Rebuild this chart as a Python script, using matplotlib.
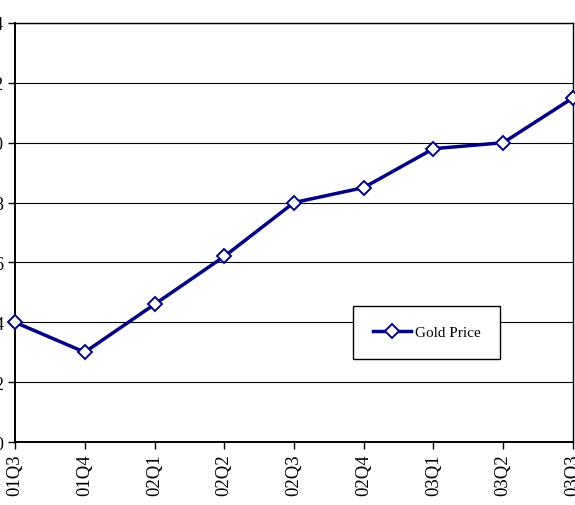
import matplotlib.pyplot as plt

# Data
quarters = ['01Q3', '01Q4', '02Q1', '02Q2', '02Q3', '02Q4', '03Q1', '03Q2', '03Q3']
gold_price = [4.0, 3.0, 4.6, 6.2, 8.0, 8.5, 9.8, 10.0, 11.5]
y_ticks = [0, 2, 4, 6, 8, 10, 12, 14]

plt.rcParams['font.family'] = ['Liberation Serif', 'DejaVu Serif']

fig = plt.figure(figsize=(5.75, 5.06), dpi=100)
ax = fig.add_axes([0.0261, 0.1245, 0.9704, 0.8281])

x = list(range(len(quarters)))
ax.plot(x, gold_price, color='#000080', linewidth=2.5, marker='D',
        markersize=7.5, markerfacecolor='white', markeredgecolor='#000080',
        markeredgewidth=1.4, label='Gold Price', clip_on=False, zorder=3)

ax.set_xlim(0, len(quarters) - 1)
ax.set_ylim(0, 14)
ax.set_xticks(x)
ax.set_xticklabels(quarters, rotation=90, fontsize=13.5)
ax.set_yticks(y_ticks)
ax.set_yticklabels([str(v) for v in y_ticks], fontsize=13)
ax.tick_params(direction='out', length=5, width=1, color='black')

ax.yaxis.grid(True, color='black', linewidth=0.8)
ax.set_axisbelow(True)
for s in ax.spines.values():
    s.set_color('black')
    s.set_linewidth(1)
ax.spines['left'].set_linewidth(1.4)
ax.spines['bottom'].set_linewidth(1.4)

leg = ax.legend(loc='center', bbox_to_anchor=(0.738, 0.261), fontsize=11,
                fancybox=False, framealpha=1, edgecolor='black',
                handlelength=2.5, borderpad=1.3, handletextpad=0.2,
                borderaxespad=0)
leg.get_frame().set_linewidth(1)

fig.savefig('out.png', dpi=100)
